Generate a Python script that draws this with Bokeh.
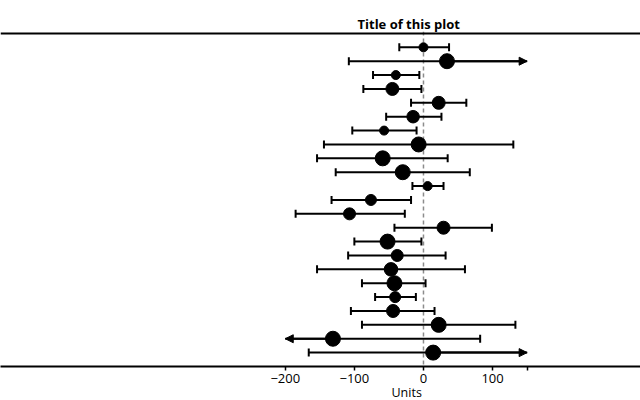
import numpy as np
from bokeh.plotting import figure
from bokeh.models import ColumnDataSource, Span, FixedTicker, Arrow, NormalHead, Title
from bokeh.embed import file_html
from bokeh.resources import INLINE

# ---- data (rows listed top to bottom) ----
estimate = [0, 34, -40, -45, 22, -15, -57, -7, -59, -30, 6, -76, -107, 29,
            -52, -38, -47, -42, -41, -44, 22, -131, 14]
lower = [-35, -108, -73, -87, -18, -54, -103, -144, -154, -127, -16, -133, -185, -42,
         -100, -109, -154, -89, -70, -105, -89, -215, -166]
upper = [37, 175, -6, -3, 62, 26, -10, 130, 35, 67, 29, -18, -27, 99,
         -3, 32, 60, 3, -11, 16, 133, 82, 170]
weight = [9, 15, 9, 13, 13, 12.5, 9, 15, 15, 15, 9, 11, 12, 13,
          15, 12, 13.5, 15, 11, 13, 15, 15, 15]
x_limits = [-200, 150]
x_ticks = [-200, -100, 0, 100, 150]

n = len(estimate)
y = [n - i for i in range(n)]
lo_c = [max(v, x_limits[0]) for v in lower]
hi_c = [min(v, x_limits[1]) for v in upper]

src = ColumnDataSource(dict(y=y, est=estimate, lo=lo_c, hi=hi_c, w=weight))

FONT = "Open Sans"
p = figure(frame_width=640, frame_height=335,
           x_range=(-612, 314), y_range=(0, n + 1 + 0.14),
           output_backend="svg", toolbar_location=None,
           y_axis_location=None,
           min_border_left=0, min_border_right=0, min_border_top=31, min_border_bottom=34,
           title="Title of this plot")
p.outline_line_color = None
p.xgrid.visible = False
p.ygrid.visible = False
p.background_fill_color = "white"

p.title.align = "left"
p.title.offset = 357
p.title.standoff = -2
p.title.text_font = FONT
p.title.text_font_size = "13px"
p.title.text_font_style = "bold"
p.title.text_color = "black"

# top rule
p.add_layout(Span(location=n + 1, dimension="width", line_color="black", line_width=2))
# zero line (behind the marks)
p.add_layout(Span(location=0, dimension="height", line_color="#8c8c8c",
                  line_width=1.5, line_dash="4 3", level="underlay"))

# CI lines
p.segment(x0="lo", y0="y", x1="hi", y1="y", source=src, line_color="black", line_width=2)

# caps for unclipped ends
cap_lo = [(l, yy) for l, yy in zip(lower, y) if l >= x_limits[0]]
cap_hi = [(h, yy) for h, yy in zip(upper, y) if h <= x_limits[1]]
caps_x = [c[0] for c in cap_lo + cap_hi]
caps_y = [c[1] for c in cap_lo + cap_hi]
p.scatter(caps_x, caps_y, marker="dash", angle=np.pi / 2, size=8,
          line_color="black", line_width=2)

# arrows for clipped ends
ax0, ax1, ay = [], [], []
for e, l, h, yy in zip(estimate, lower, upper, y):
    if l < x_limits[0]:
        ax0.append(e); ax1.append(x_limits[0]); ay.append(yy)
    if h > x_limits[1]:
        ax0.append(e); ax1.append(x_limits[1]); ay.append(yy)
asrc = ColumnDataSource(dict(x0=ax0, x1=ax1, y=ay))
p.add_layout(Arrow(end=NormalHead(size=8, fill_color="black", line_color="black", line_width=1),
                   x_start="x0", y_start="y", x_end="x1", y_end="y", source=asrc,
                   line_color="black", line_width=2))

# point estimates
p.scatter("est", "y", size="w", source=src, fill_color="black", line_color="black")

# axis
ax = p.xaxis[0]
ax.ticker = FixedTicker(ticks=x_ticks)
ax.major_label_overrides = {150: ""}
ax.axis_line_width = 2
ax.axis_line_color = "black"
ax.major_tick_line_color = "black"
ax.major_tick_line_width = 1.5
ax.major_tick_out = 4
ax.major_tick_in = 0
ax.minor_tick_line_color = None
ax.major_label_text_font = FONT
ax.major_label_text_font_size = "13px"
ax.major_label_text_color = "black"
ax.major_label_standoff = 3

# axis title, centred under the data column like the reference
p.add_layout(Title(text="Units", align="left", offset=391, standoff=-7,
                   text_font=FONT, text_font_size="12.5px", text_font_style="normal",
                   text_color="black"), "below")

open("out.html", "w").write(file_html(p, INLINE))
